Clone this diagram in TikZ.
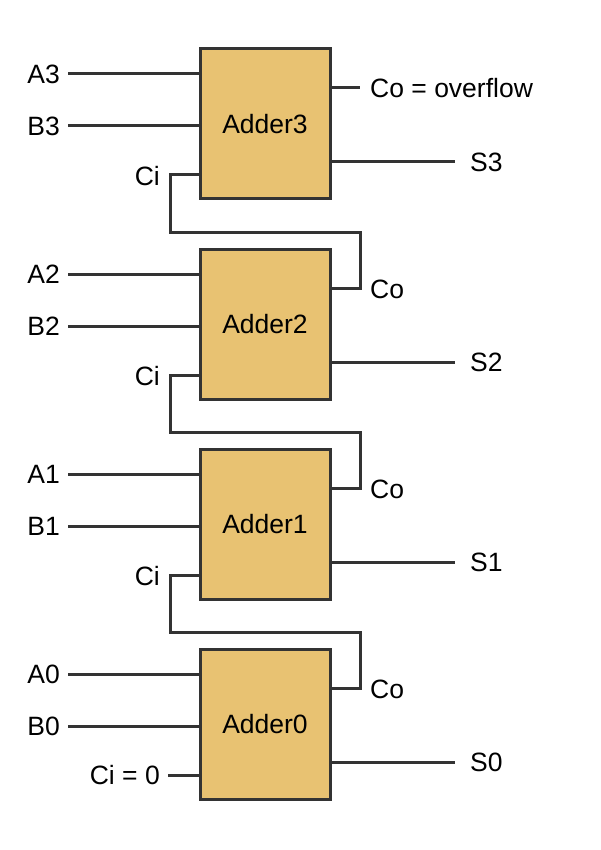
\documentclass[tikz,border=0pt]{standalone}
\usepackage{fontspec}
\setmainfont{Liberation Sans}
\definecolor{boxfill}{HTML}{E8C272}
\definecolor{wire}{HTML}{333333}
\begin{document}
\begin{tikzpicture}[x=1pt,y=-1pt,
  adder/.style={draw=wire,fill=boxfill,line width=3pt,minimum width=130pt,minimum height=150pt,inner sep=0pt,font=\fontsize{26.5}{30}\selectfont},
  lbl/.style={inner sep=0pt,font=\fontsize{26.5}{30}\selectfont},
  w/.style={draw=wire,line width=3pt}]
\useasboundingbox (0,0) rectangle (600,850);
\foreach \k/\t in {3/49,2/249,1/449,0/649}{
  \node[adder] (ad\k) at (265,\t+75) {Adder\k};
  \coordinate (ina\k) at (68,\t+25);
  \coordinate (inb\k) at (68,\t+77);
  \node[lbl,anchor=east] (la\k) at (60,\t+25) {A\k};
  \node[lbl,anchor=east] (lb\k) at (60,\t+77) {B\k};
  \draw[w] (ina\k) -- (ina\k -| ad\k.west);
  \draw[w] (inb\k) -- (inb\k -| ad\k.west);
  \coordinate (so\k) at (455,\t+113);
  \node[lbl,anchor=west] (ls\k) at (470,\t+113) {S\k};
  \draw[w] (so\k -| ad\k.east) -- (so\k);
}
% carry chain
\foreach \u/\l/\t in {3/2/49,2/1/249,1/0/449}{
  \coordinate (ci\u) at (170,\t+126);
  \coordinate (bend\u) at (170,\t+183);
  \node[lbl,anchor=east] (lc\u) at (160,\t+127) {Ci};
  \coordinate (co\l) at (360,\t+239);
  \node[lbl,anchor=west] (lo\l) at (370,\t+240) {Co};
  \draw[w] (ci\u -| ad\u.west) -- (ci\u) -- (bend\u) -- (bend\u -| co\l) -- (co\l) -- (co\l -| ad\l.east);
}
\coordinate (ov) at (360,88);
\node[lbl,anchor=west] (lov) at (370,88) {Co = overflow};
\draw[w] (ov -| ad3.east) -- (ov);
\coordinate (cz) at (168,775);
\node[lbl,anchor=east] (lcz) at (160,775) {Ci = 0};
\draw[w] (cz) -- (cz -| ad0.west);
\end{tikzpicture}
\end{document}
